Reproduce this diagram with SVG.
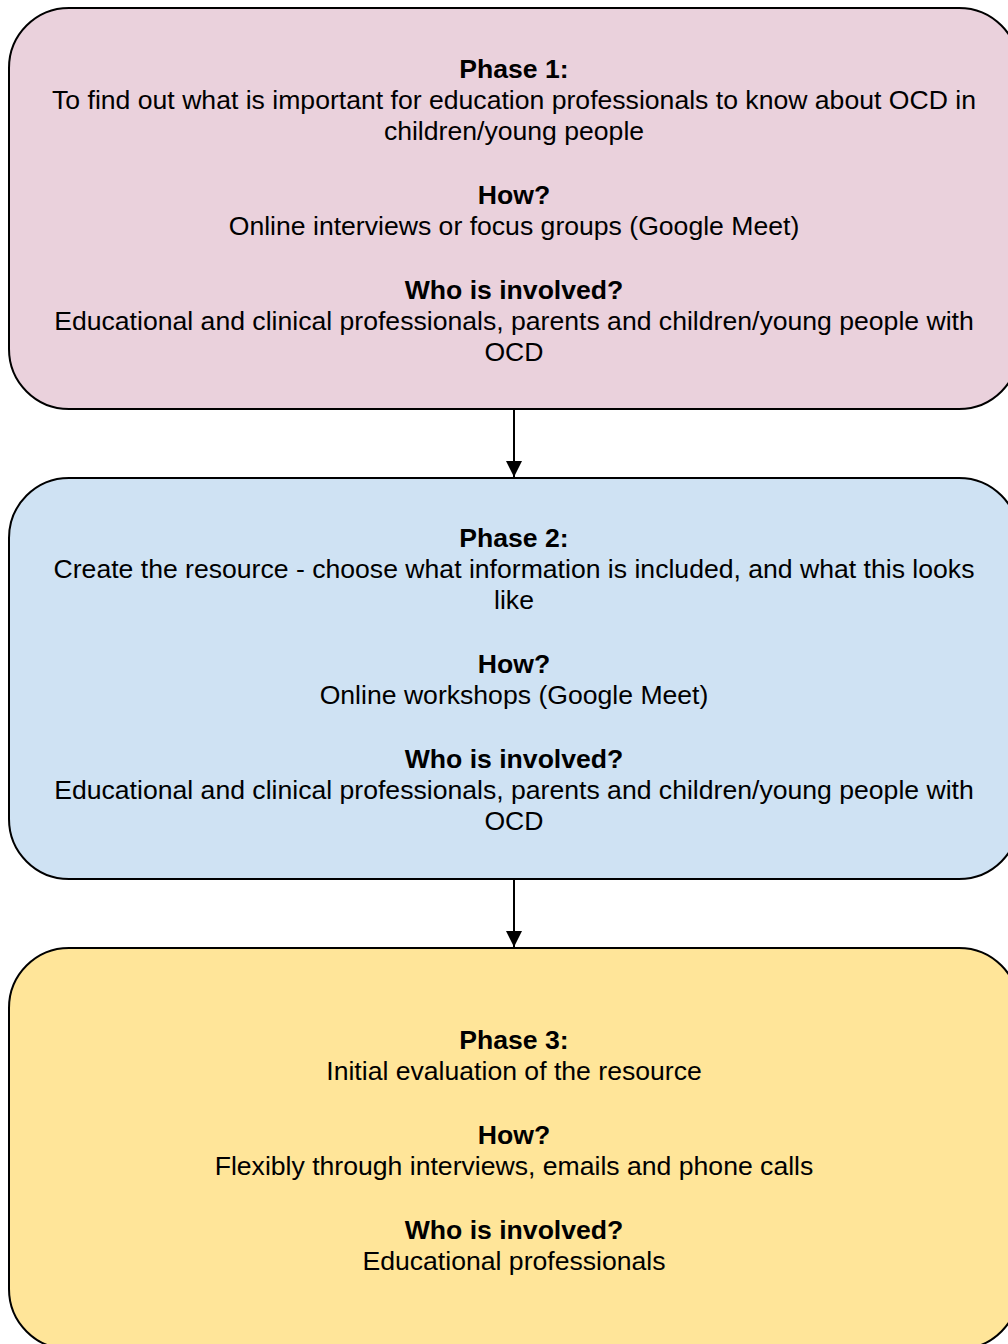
<svg xmlns="http://www.w3.org/2000/svg" width="1008" height="1344" viewBox="0 0 1008 1344">
<defs>
<style>
.box{stroke:#000;stroke-width:2}
text{font-family:"Liberation Sans",Arial,Helvetica,sans-serif;font-size:26.6px;fill:#000;text-anchor:middle}
.b{font-weight:bold}
.conn{stroke:#000;stroke-width:2;fill:none}
</style>
<marker id="arr" viewBox="0 0 16 16" refX="16" refY="8" markerWidth="16" markerHeight="16" markerUnits="userSpaceOnUse" orient="auto">
<path d="M0,0 L16,8 L0,16 Z" fill="#000"/>
</marker>
</defs>
<rect width="1008" height="1344" fill="#fff"/>
<g id="phase1">
<rect class="box" x="9" y="8" width="1010" height="401" rx="60" ry="60" fill="#EAD1DC"/>
<text x="514" y="78" class="b">Phase 1:</text>
<text x="514" y="109">To find out what is important for education professionals to know about OCD in</text>
<text x="514" y="140">children/young people</text>
<text x="514" y="204" class="b">How?</text>
<text x="514" y="235">Online interviews or focus groups (Google Meet)</text>
<text x="514" y="299" class="b">Who is involved?</text>
<text x="514" y="330">Educational and clinical professionals, parents and children/young people with</text>
<text x="514" y="361">OCD</text>
</g>
<g id="phase2">
<rect class="box" x="9" y="478" width="1010" height="401" rx="60" ry="60" fill="#CFE2F3"/>
<text x="514" y="547" class="b">Phase 2:</text>
<text x="514" y="578">Create the resource - choose what information is included, and what this looks</text>
<text x="514" y="609">like</text>
<text x="514" y="673" class="b">How?</text>
<text x="514" y="704">Online workshops (Google Meet)</text>
<text x="514" y="768" class="b">Who is involved?</text>
<text x="514" y="799">Educational and clinical professionals, parents and children/young people with</text>
<text x="514" y="830">OCD</text>
</g>
<g id="phase3">
<rect class="box" x="9" y="948" width="1010" height="401" rx="60" ry="60" fill="#FFE599"/>
<text x="514" y="1049" class="b">Phase 3:</text>
<text x="514" y="1080">Initial evaluation of the resource</text>
<text x="514" y="1144" class="b">How?</text>
<text x="514" y="1175">Flexibly through interviews, emails and phone calls</text>
<text x="514" y="1239" class="b">Who is involved?</text>
<text x="514" y="1270">Educational professionals</text>
</g>
<g id="connectors">
<line class="conn" x1="514" y1="409" x2="514" y2="477" marker-end="url(#arr)"/>
<line class="conn" x1="514" y1="879" x2="514" y2="947" marker-end="url(#arr)"/>
</g>
</svg>
